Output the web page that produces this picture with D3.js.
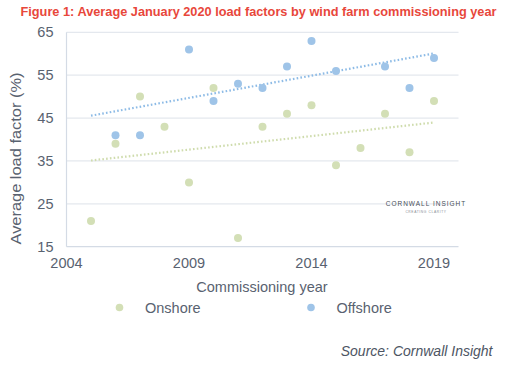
<!DOCTYPE html>
<html>
<head>
<meta charset="utf-8">
<script src="https://cdn.jsdelivr.net/npm/d3@7"></script>
<style>
  body { margin: 0; background: #fff; }
  svg { display: block; font-family: "Liberation Sans", Arial, sans-serif; }
</style>
</head>
<body>
<svg id="chart" width="508" height="370"></svg>
<script>
// Data
const onshoreYears = [2005, 2006, 2007, 2008, 2009, 2010, 2011, 2012, 2013, 2014, 2015, 2016, 2017, 2018, 2019];
const onshoreValues = [21, 39, 50, 43, 30, 52, 17, 43, 46, 48, 34, 38, 46, 37, 49];
const offshoreYears = [2006, 2007, 2009, 2010, 2011, 2012, 2013, 2014, 2015, 2017, 2018, 2019];
const offshoreValues = [41, 41, 61, 49, 53, 52, 57, 63, 56, 57, 52, 59];
const xTicks = [2004, 2009, 2014, 2019];
const yTicks = [15, 25, 35, 45, 55, 65];

const textColor = "#596270";
const onshoreColor = "#d3dfb6";
const offshoreColor = "#9fc4e8";

const svg = d3.select("#chart");
const margin = { left: 66.5, right: 458.5, top: 32.3, bottom: 246.7 };

const x = d3.scaleLinear().domain([2004, 2020]).range([margin.left, margin.right]);
const y = d3.scaleLinear().domain([15, 65]).range([margin.bottom, margin.top]);

// Title
svg.append("text")
    .attr("x", 258.5)
    .attr("y", 16)
    .attr("text-anchor", "middle")
    .attr("font-size", "13px")
    .attr("font-weight", "bold")
    .attr("fill", "#e8473b")
    .attr("textLength", 476)
    .attr("lengthAdjust", "spacingAndGlyphs")
    .text("Figure 1: Average January 2020 load factors by wind farm commissioning year");

// Horizontal gridlines
svg.selectAll(".grid")
    .data(yTicks.filter(d => d !== 15))
    .enter()
    .append("line")
    .attr("class", "grid")
    .attr("x1", margin.left)
    .attr("x2", margin.right)
    .attr("y1", d => y(d))
    .attr("y2", d => y(d))
    .attr("stroke", "#e4e8ee")
    .attr("stroke-width", 1.3);

// Axis lines
svg.append("line")
    .attr("x1", margin.left).attr("x2", margin.left)
    .attr("y1", margin.top).attr("y2", margin.bottom)
    .attr("stroke", "#d4dbe5").attr("stroke-width", 1.2);
svg.append("line")
    .attr("x1", margin.left).attr("x2", margin.right)
    .attr("y1", margin.bottom).attr("y2", margin.bottom)
    .attr("stroke", "#d4dbe5").attr("stroke-width", 1.2);

// Y tick labels
svg.selectAll(".ylab")
    .data(yTicks)
    .enter()
    .append("text")
    .attr("class", "ylab")
    .attr("x", 53.5)
    .attr("y", d => y(d) + 5)
    .attr("text-anchor", "end")
    .attr("font-size", "14.5px")
    .attr("fill", textColor)
    .text(d => d);

// X tick labels
svg.selectAll(".xlab")
    .data(xTicks)
    .enter()
    .append("text")
    .attr("class", "xlab")
    .attr("x", d => x(d))
    .attr("y", 267.5)
    .attr("text-anchor", "middle")
    .attr("font-size", "14.5px")
    .attr("fill", textColor)
    .text(d => d);

// Axis titles
svg.append("text")
    .attr("x", 262)
    .attr("y", 292)
    .attr("text-anchor", "middle")
    .attr("font-size", "14.5px")
    .attr("fill", textColor)
    .text("Commissioning year");

svg.append("text")
    .attr("transform", "translate(20.5,158.5) rotate(-90)")
    .attr("text-anchor", "middle")
    .attr("font-size", "14.5px")
    .attr("fill", textColor)
    .attr("textLength", 172)
    .attr("lengthAdjust", "spacingAndGlyphs")
    .text("Average load factor (%)");

// Watermark
svg.append("text")
    .attr("x", 426)
    .attr("y", 205.5)
    .attr("text-anchor", "middle")
    .attr("font-size", "6.5px")
    .attr("letter-spacing", "1px")
    .attr("fill", "#4a4f58")
    .text("CORNWALL INSIGHT");
svg.append("text")
    .attr("x", 426)
    .attr("y", 212.5)
    .attr("text-anchor", "middle")
    .attr("font-size", "3.3px")
    .attr("letter-spacing", "0.6px")
    .attr("fill", "#8a8f98")
    .text("CREATING CLARITY");

// Linear trendline through the series, drawn over the full year span
function trend(xs, ys) {
    const mx = d3.mean(xs), my = d3.mean(ys);
    const sxy = d3.sum(xs, (v, i) => (v - mx) * (ys[i] - my));
    const sxx = d3.sum(xs, v => (v - mx) * (v - mx));
    const b = sxy / sxx;
    return t => my + b * (t - mx);
}
const span = d3.extent(onshoreYears.concat(offshoreYears));

const series = [
    { years: onshoreYears, values: onshoreValues, color: onshoreColor, line: "#cfdcad" },
    { years: offshoreYears, values: offshoreValues, color: offshoreColor, line: "#8dbbe6" }
];

series.forEach(s => {
    const f = trend(s.years, s.values);
    svg.append("line")
        .attr("x1", x(span[0]))
        .attr("y1", y(f(span[0])))
        .attr("x2", x(span[1]))
        .attr("y2", y(f(span[1])))
        .attr("stroke", s.line)
        .attr("stroke-width", 2.2)
        .attr("stroke-dasharray", "1.6 2.2");
});

series.forEach(s => {
    svg.selectAll(null)
        .data(s.years.map((yr, i) => ({ yr, v: s.values[i] })))
        .enter()
        .append("circle")
        .attr("cx", d => x(d.yr))
        .attr("cy", d => y(d.v))
        .attr("r", 4)
        .attr("fill", s.color);
});

// Legend
const legend = [
    { name: "Onshore", color: onshoreColor, cx: 119.5, tx: 145 },
    { name: "Offshore", color: offshoreColor, cx: 311, tx: 336.5 }
];
legend.forEach(l => {
    svg.append("circle")
        .attr("cx", l.cx).attr("cy", 307.5).attr("r", 3.8)
        .attr("fill", l.color);
    svg.append("text")
        .attr("x", l.tx).attr("y", 312.5)
        .attr("font-size", "14.5px")
        .attr("fill", textColor)
        .text(l.name);
});

// Source note
svg.append("text")
    .attr("x", 492.5)
    .attr("y", 356)
    .attr("text-anchor", "end")
    .attr("font-size", "14px")
    .attr("font-style", "italic")
    .attr("fill", "#4d5563")
    .text("Source: Cornwall Insight");
</script>
</body>
</html>
